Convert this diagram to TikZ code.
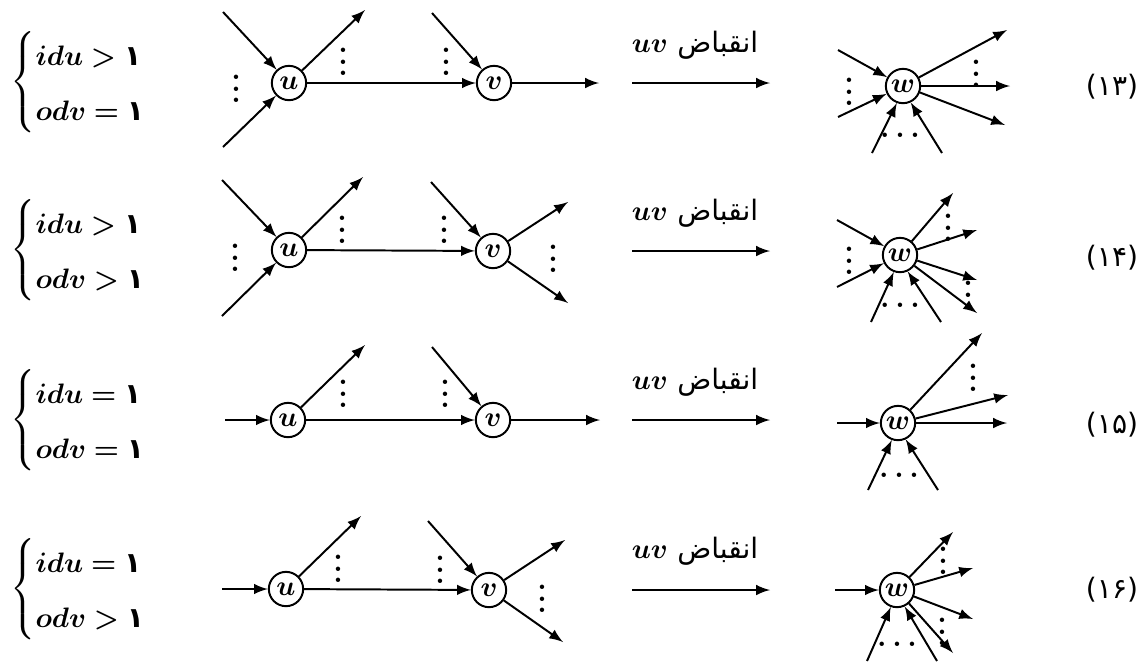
\documentclass[tikz,border=0pt]{standalone}
\usepackage{amsmath}
\usepackage{bm}
\usepackage{fontspec}
\newfontfamily\farsi[Script=Arabic]{DejaVu Sans}
\TeXXeTstate=1
\usepackage{tikz}
\usetikzlibrary{positioning, calc}
\newcommand{\fone}{\mbox{\farsi\bfseries ۱}}
\newcommand{\vdts}{\vbox{\baselineskip4pt\lineskiplimit0pt\hbox{\bfseries.}\hbox{\bfseries.}\hbox{\bfseries.}}}
\newcommand{\hdts}{\bfseries.\kern2.2pt.\kern2.2pt.}
\newcommand{\contr}{$\bm{uv}$ {\farsi\beginR انقباض\endR}}
\newcommand{\condbox}[2]{$\renewcommand{\arraystretch}{1.65}\left\{\begin{array}{@{}l@{}} #1 \\ #2 \end{array}\right.$}

\begin{document}
\begin{tikzpicture}[x=0.0125cm, y=-0.0125cm,
	vert/.style={circle, draw, line width=0.7pt, inner sep=0pt, minimum size=12.2pt},
	arr/.style={line width=0.7pt, -latex},
	dts/.style={inner sep=0pt},
	cond/.style={anchor=west, inner sep=0pt},
	lbl/.style={inner sep=0pt},
	eqno/.style={font=\farsi, inner sep=0pt}
	]
	\useasboundingbox (0,0) rectangle (1144,661);

	% row 1
	\node[cond] (c1) at (10,82) {\condbox{\bm{idu} \mathrel{\bm{>}} \fone}{\bm{odv} \mathrel{\bm{=}} \fone}};
	\node[vert] (u1) at (289,83) {$\bm{u}$};
	\node[vert] (v1) at (494,83) {$\bm{v}$};
	\coordinate (u1a) at (223,12);
	\coordinate (u1b) at (223,147);
	\coordinate (u1c) at (365,10);
	\coordinate (v1a) at (432,13);
	\coordinate (v1b) at (599,83);
	\draw[arr] (u1a) -- (u1);
	\draw[arr] (u1b) -- (u1);
	\draw[arr] (u1) -- (u1c);
	\draw[arr] (u1) -- (v1);
	\draw[arr] (v1a) -- (v1);
	\draw[arr] (v1) -- (v1b);
	\node[dts] (d1a) at (236,89) {\vdts};
	\node[dts] (d1b) at (343,62) {\vdts};
	\node[dts] (d1c) at (446,62) {\vdts};

	\coordinate (k1a) at (632,83);
	\coordinate (k1b) at (770,83);
	\draw[arr] (k1a) -- (k1b);
	\node[lbl] (t1) at (695,45) {\contr};

	\node[vert] (w1) at (903,86) {$\bm{w}$};
	\coordinate (w1a) at (838,50);
	\coordinate (w1b) at (838,117);
	\coordinate (w1c) at (872,153);
	\coordinate (w1d) at (942,153);
	\coordinate (w1e) at (1007,30);
	\coordinate (w1f) at (1010,86);
	\coordinate (w1g) at (1005,125);
	\draw[arr] (w1a) -- (w1);
	\draw[arr] (w1b) -- (w1);
	\draw[arr] (w1c) -- (w1.250);
	\draw[arr] (w1d) -- (w1.295);
	\draw[arr] (w1) -- (w1e);
	\draw[arr] (w1) -- (w1f);
	\draw[arr] (w1) -- (w1g);
	\node[dts] (e1a) at (849,92) {\vdts};
	\node[dts] (e1b) at (976,74) {\vdts};
	\node[dts] (e1c) at (900,135) {\hdts};
	\node[eqno] (n1) at (1112,87) {(۱۳)};

	% row 2
	\node[cond] (c2) at (10,250) {\condbox{\bm{idu} \mathrel{\bm{>}} \fone}{\bm{odv} \mathrel{\bm{>}} \fone}};
	\node[vert] (u2) at (289,250) {$\bm{u}$};
	\node[vert] (v2) at (493,251) {$\bm{v}$};
	\coordinate (u2a) at (222,180);
	\coordinate (u2b) at (222,316);
	\coordinate (u2c) at (363,177);
	\coordinate (v2a) at (431,182);
	\coordinate (v2b) at (568,202);
	\coordinate (v2c) at (568,303);
	\draw[arr] (u2a) -- (u2);
	\draw[arr] (u2b) -- (u2);
	\draw[arr] (u2) -- (u2c);
	\draw[arr] (u2) -- (v2);
	\draw[arr] (v2a) -- (v2);
	\draw[arr] (v2) -- (v2b);
	\draw[arr] (v2) -- (v2c);
	\node[dts] (d2a) at (235,258) {\vdts};
	\node[dts] (d2b) at (342,230) {\vdts};
	\node[dts] (d2c) at (444,230) {\vdts};
	\node[dts] (d2d) at (553,259) {\vdts};

	\coordinate (k2a) at (632,251);
	\coordinate (k2b) at (770,251);
	\draw[arr] (k2a) -- (k2b);
	\node[lbl] (t2) at (695,213) {\contr};

	\node[vert] (w2) at (900,255) {$\bm{w}$};
	\coordinate (w2a) at (837,220);
	\coordinate (w2b) at (837,287);
	\coordinate (w2c) at (871,322);
	\coordinate (w2d) at (941,322);
	\coordinate (w2e) at (953,193);
	\coordinate (w2f) at (977,230);
	\coordinate (w2g) at (977,280);
	\coordinate (w2h) at (977,313);
	\draw[arr] (w2a) -- (w2);
	\draw[arr] (w2b) -- (w2);
	\draw[arr] (w2c) -- (w2.250);
	\draw[arr] (w2d) -- (w2.295);
	\draw[arr] (w2) -- (w2e);
	\draw[arr] (w2) -- (w2f);
	\draw[arr] (w2) -- (w2g);
	\draw[arr] (w2) -- (w2h);
	\node[dts] (e2a) at (849,261) {\vdts};
	\node[dts] (e2b) at (948,228) {\vdts};
	\node[dts] (e2c) at (968,295) {\vdts};
	\node[dts] (e2d) at (900,305) {\hdts};
	\node[eqno] (n2) at (1112,258) {(۱۴)};

	% row 3
	\node[cond] (c3) at (10,420) {\condbox{\bm{idu} \mathrel{\bm{=}} \fone}{\bm{odv} \mathrel{\bm{=}} \fone}};
	\node[vert] (u3) at (288,420) {$\bm{u}$};
	\node[vert] (v3) at (493,420) {$\bm{v}$};
	\coordinate (u3a) at (225,420);
	\coordinate (u3c) at (365,345);
	\coordinate (v3a) at (432,347);
	\coordinate (v3b) at (600,420);
	\draw[arr] (u3a) -- (u3);
	\draw[arr] (u3) -- (u3c);
	\draw[arr] (u3) -- (v3);
	\draw[arr] (v3a) -- (v3);
	\draw[arr] (v3) -- (v3b);
	\node[dts] (d3b) at (343,394) {\vdts};
	\node[dts] (d3c) at (445,394) {\vdts};

	\coordinate (k3a) at (632,420);
	\coordinate (k3b) at (770,420);
	\draw[arr] (k3a) -- (k3b);
	\node[lbl] (t3) at (695,382) {\contr};

	\node[vert] (w3) at (898,423) {$\bm{w}$};
	\coordinate (w3a) at (837,423);
	\coordinate (w3c) at (868,490);
	\coordinate (w3d) at (938,490);
	\coordinate (w3e) at (982,333);
	\coordinate (w3f) at (1008,395);
	\coordinate (w3g) at (1007,423);
	\draw[arr] (w3a) -- (w3);
	\draw[arr] (w3c) -- (w3.250);
	\draw[arr] (w3d) -- (w3.295);
	\draw[arr] (w3) -- (w3e);
	\draw[arr] (w3) -- (w3f);
	\draw[arr] (w3) -- (w3g);
	\node[dts] (e3b) at (973,378) {\vdts};
	\node[dts] (e3c) at (899,475) {\hdts};
	\node[eqno] (n3) at (1112,425) {(۱۵)};

	% row 4
	\node[cond] (c4) at (10,589) {\condbox{\bm{idu} \mathrel{\bm{=}} \fone}{\bm{odv} \mathrel{\bm{>}} \fone}};
	\node[vert] (u4) at (286,589) {$\bm{u}$};
	\node[vert] (v4) at (489,590) {$\bm{v}$};
	\coordinate (u4a) at (222,589);
	\coordinate (u4c) at (361,516);
	\coordinate (v4a) at (428,521);
	\coordinate (v4b) at (565,540);
	\coordinate (v4c) at (563,642);
	\draw[arr] (u4a) -- (u4);
	\draw[arr] (u4) -- (u4c);
	\draw[arr] (u4) -- (v4);
	\draw[arr] (v4a) -- (v4);
	\draw[arr] (v4) -- (v4b);
	\draw[arr] (v4) -- (v4c);
	\node[dts] (d4b) at (338,569) {\vdts};
	\node[dts] (d4c) at (440,570) {\vdts};
	\node[dts] (d4d) at (542,599) {\vdts};

	\coordinate (k4a) at (632,590);
	\coordinate (k4b) at (770,590);
	\draw[arr] (k4a) -- (k4b);
	\node[lbl] (t4) at (695,551) {\contr};

	\node[vert] (w4) at (897,590) {$\bm{w}$};
	\coordinate (w4a) at (835,590);
	\coordinate (w4c) at (867,661);
	\coordinate (w4d) at (937,661);
	\coordinate (w4e) at (953,532);
	\coordinate (w4f) at (973,568);
	\coordinate (w4g) at (973,619);
	\coordinate (w4h) at (953,653);
	\draw[arr] (w4a) -- (w4);
	\draw[arr] (w4c) -- (w4.250);
	\draw[arr] (w4d) -- (w4.295);
	\draw[arr] (w4) -- (w4e);
	\draw[arr] (w4) -- (w4f);
	\draw[arr] (w4) -- (w4g);
	\draw[arr] (w4) -- (w4h);
	\node[dts] (e4b) at (943,561) {\vdts};
	\node[dts] (e4c) at (942,632) {\vdts};
	\node[dts] (e4d) at (897,644) {\hdts};
	\node[eqno] (n4) at (1112,590) {(۱۶)};
\end{tikzpicture}
\end{document}
